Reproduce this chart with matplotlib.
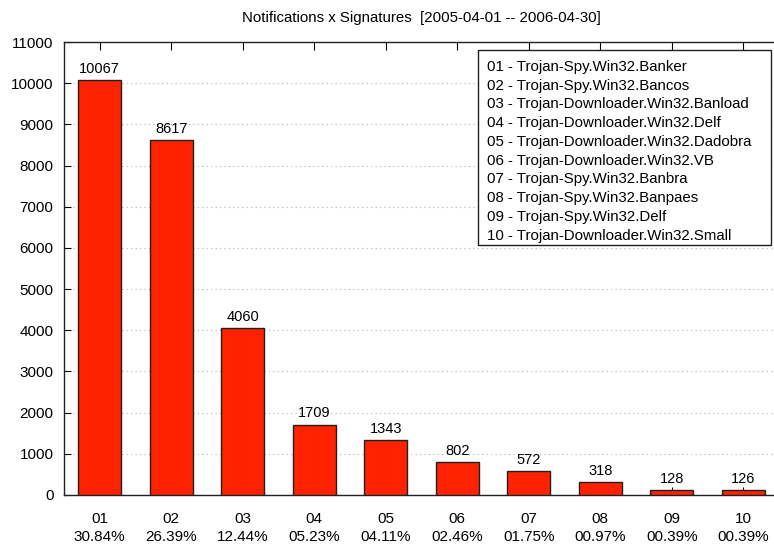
import matplotlib.pyplot as plt
from matplotlib.patches import Rectangle

plt.rcParams['font.family'] = ['Liberation Sans', 'DejaVu Sans']

ids = ['01', '02', '03', '04', '05', '06', '07', '08', '09', '10']
counts = [10067, 8617, 4060, 1709, 1343, 802, 572, 318, 128, 126]
percents = ['30.84%', '26.39%', '12.44%', '05.23%', '04.11%',
            '02.46%', '01.75%', '00.97%', '00.39%', '00.39%']
signatures = ['Trojan-Spy.Win32.Banker', 'Trojan-Spy.Win32.Bancos',
              'Trojan-Downloader.Win32.Banload', 'Trojan-Downloader.Win32.Delf',
              'Trojan-Downloader.Win32.Dadobra', 'Trojan-Downloader.Win32.VB',
              'Trojan-Spy.Win32.Banbra', 'Trojan-Spy.Win32.Banpaes',
              'Trojan-Spy.Win32.Delf', 'Trojan-Downloader.Win32.Small']
title = 'Notifications x Signatures  [2005-04-01 -- 2006-04-30]'

fig = plt.figure(figsize=(7.74, 5.44), dpi=100)
ax = fig.add_axes([64 / 774, 49 / 544, 715 / 774, 453 / 544])

x = list(range(1, len(ids) + 1))
bars = ax.bar(x, counts, width=0.6, color='#ff2200', edgecolor='#202020',
              linewidth=1, zorder=3)
ax.bar_label(bars, labels=[str(c) for c in counts], padding=3, fontsize=10.5)

ax.set_xlim(0.5, 10.5)
ax.set_ylim(0, 11000)
ax.set_yticks(range(0, 11001, 1000))
ax.set_xticks(x)
ax.set_xticklabels([f'{i}\n{p}' for i, p in zip(ids, percents)],
                   fontsize=11, linespacing=1.3)
ax.tick_params(axis='x', direction='in', top=True, length=6, pad=12.5)
ax.tick_params(axis='y', direction='in', length=5, pad=7.5, labelsize=11)
ax.yaxis.grid(True, color='#b0b0b0', linestyle=(0, (1, 3)), linewidth=0.8)
ax.set_axisbelow(True)
for s in ax.spines.values():
    s.set_color('#202020')
    s.set_linewidth(1)

fig.text(421 / 774, 1 - 18 / 544, title, ha='center', va='center', fontsize=10.8)

# key box
box = Rectangle((478 / 774, 1 - 245 / 544), 293 / 774, 195 / 544,
                transform=fig.transFigure, facecolor='white',
                edgecolor='#202020', linewidth=1, zorder=5)
fig.patches.append(box)
legend_text = '\n'.join(f'{i} - {s}' for i, s in zip(ids, signatures))
fig.text(487 / 774, 1 - 60 / 544, legend_text, ha='left', va='top',
         fontsize=10.8, linespacing=1.43, zorder=6)

fig.savefig('out.png', dpi=100)
